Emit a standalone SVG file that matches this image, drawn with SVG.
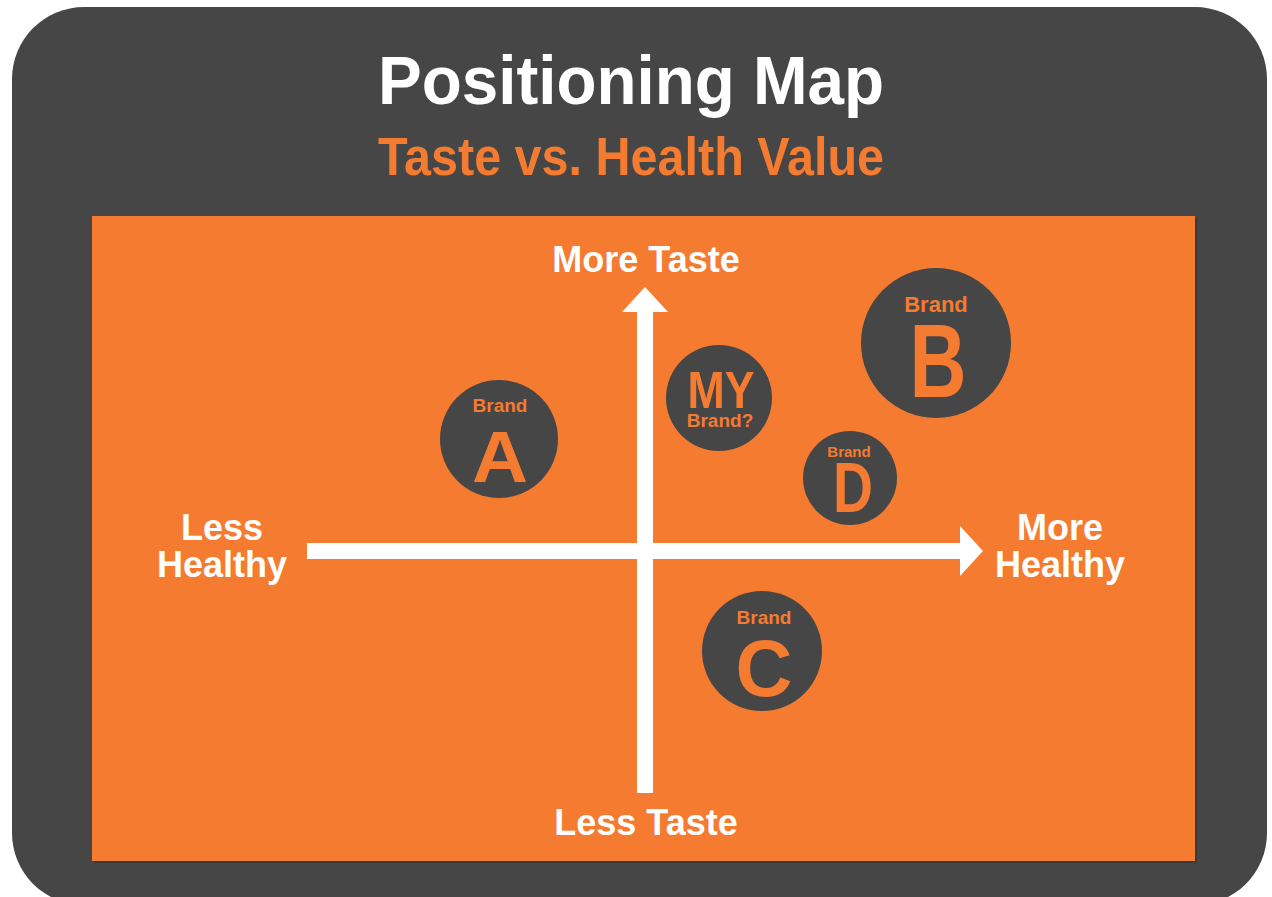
<svg xmlns="http://www.w3.org/2000/svg" width="1272" height="897" viewBox="0 0 1272 897">
  <style>
    .t { font-family: "Liberation Sans", Arial, sans-serif; font-weight: bold; text-anchor: middle; }
    .w { fill: #FFFFFF; }
    .o { fill: #F47B30; }
    .dot { fill: #464646; }
    .axis { stroke: #FFFFFF; stroke-width: 16; fill: none; }
    .head { fill: #FFFFFF; }
  </style>
  <rect x="0" y="0" width="1272" height="897" fill="#FFFFFF"/>
  <g id="frame">
    <rect x="12" y="7" width="1255" height="898" rx="72" ry="72" fill="#464646"/>
    <rect x="94" y="218" width="1103" height="645" fill="#3A3A3A"/>
    <rect x="92" y="216" width="1103" height="645" fill="#F47B30"/>
  </g>
  <g id="title">
    <text class="t w" x="631" y="104" font-size="68" textLength="506" lengthAdjust="spacingAndGlyphs">Positioning Map</text>
    <text class="t o" x="631" y="175" font-size="53" textLength="506" lengthAdjust="spacingAndGlyphs">Taste vs. Health Value</text>
  </g>
  <g id="connectors">
    <line class="axis" x1="307" y1="551" x2="962" y2="551"/>
    <polygon class="head" points="960,526 983,551 960,576"/>
    <line class="axis" x1="645" y1="793" x2="645" y2="310"/>
    <polygon class="head" points="622,312 645,287 668,312"/>
  </g>
  <g id="axis-labels">
    <text class="t w" x="646" y="272" font-size="36">More Taste</text>
    <text class="t w" x="646" y="835" font-size="36">Less Taste</text>
    <text class="t w" x="222" y="540" font-size="36">Less</text>
    <text class="t w" x="222" y="577" font-size="36">Healthy</text>
    <text class="t w" x="1060" y="540" font-size="36">More</text>
    <text class="t w" x="1060" y="577" font-size="36">Healthy</text>
  </g>
  <g id="brand-a">
    <circle class="dot" cx="499" cy="439" r="59"/>
    <text class="t o" x="500" y="412" font-size="19">Brand</text>
    <text class="t o" x="500" y="482" font-size="72" textLength="56" lengthAdjust="spacingAndGlyphs">A</text>
  </g>
  <g id="my-brand">
    <circle class="dot" cx="719" cy="398" r="53"/>
    <text class="t o" x="721" y="408" font-size="52" textLength="67" lengthAdjust="spacingAndGlyphs">MY</text>
    <text class="t o" x="720" y="427" font-size="19">Brand?</text>
  </g>
  <g id="brand-b">
    <circle class="dot" cx="936" cy="343" r="75"/>
    <text class="t o" x="936" y="312" font-size="22">Brand</text>
    <text class="t o" x="938" y="397" font-size="103" textLength="57" lengthAdjust="spacingAndGlyphs">B</text>
  </g>
  <g id="brand-d">
    <circle class="dot" cx="850" cy="478" r="47"/>
    <text class="t o" x="849" y="457" font-size="15">Brand</text>
    <text class="t o" x="853" y="512" font-size="70" textLength="40" lengthAdjust="spacingAndGlyphs">D</text>
  </g>
  <g id="brand-c">
    <circle class="dot" cx="762" cy="651" r="60"/>
    <text class="t o" x="764" y="624" font-size="19">Brand</text>
    <text class="t o" x="764" y="696" font-size="80" textLength="57" lengthAdjust="spacingAndGlyphs">C</text>
  </g>
</svg>
